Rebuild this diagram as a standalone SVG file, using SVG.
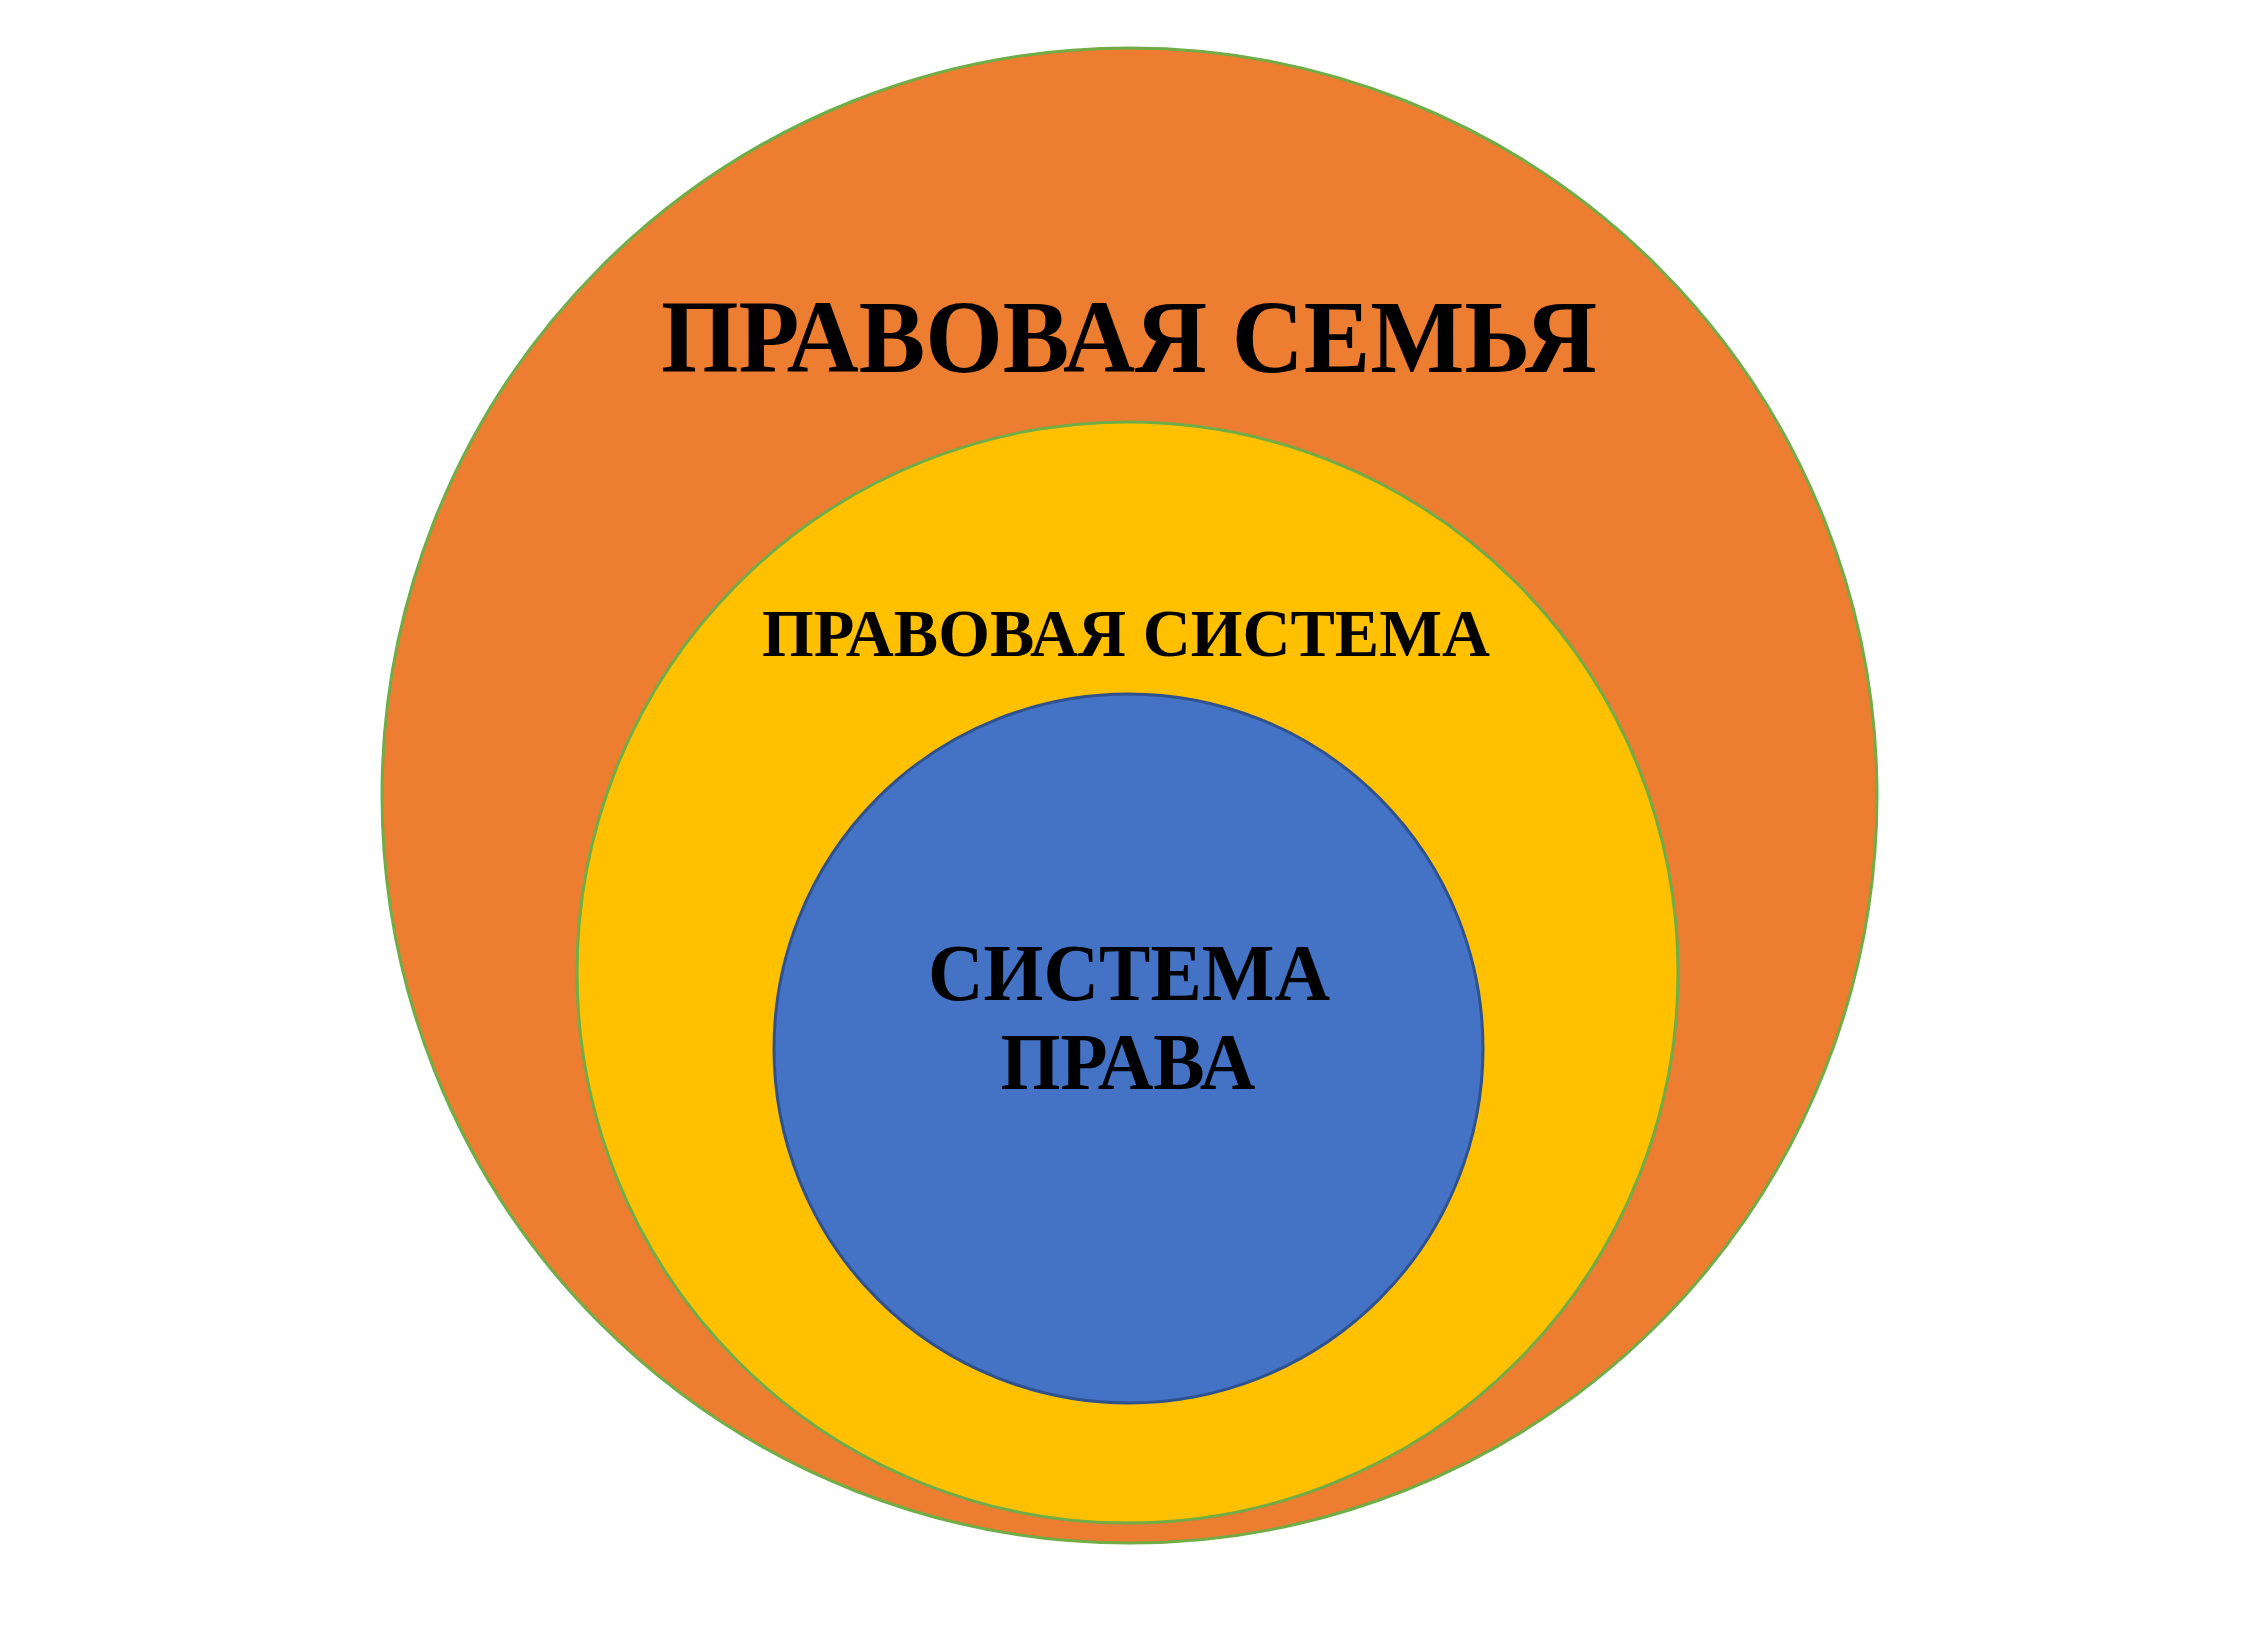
<svg xmlns="http://www.w3.org/2000/svg" width="2261" height="1640" viewBox="0 0 2261 1640">
<style>
.lbl{font-family:"Liberation Serif","Times New Roman",serif;font-weight:bold;fill:#000;text-anchor:middle}
</style>
<rect width="2261" height="1640" fill="#fff"/>
<g id="family">
<circle cx="1129.5" cy="795.5" r="747.5" fill="#ED7D31" stroke="#70AD47" stroke-width="3"/>
<text class="lbl" x="1129" y="372" font-size="104" textLength="936" lengthAdjust="spacingAndGlyphs">ПРАВОВАЯ СЕМЬЯ</text>
</g>
<g id="system">
<circle cx="1127.5" cy="972.5" r="550.5" fill="#FFC000" stroke="#70AD47" stroke-width="3"/>
<text class="lbl" x="1126" y="656" font-size="67" textLength="728" lengthAdjust="spacingAndGlyphs">ПРАВОВАЯ СИСТЕМА</text>
</g>
<g id="law">
<circle cx="1128.5" cy="1048.5" r="354.5" fill="#4472C4" stroke="#2F528F" stroke-width="3"/>
<text class="lbl" x="1129" y="1000" font-size="80" textLength="402" lengthAdjust="spacingAndGlyphs">СИСТЕМА</text>
<text class="lbl" x="1128" y="1089" font-size="80" textLength="255" lengthAdjust="spacingAndGlyphs">ПРАВА</text>
</g>
<g id="connectors"/>
</svg>
